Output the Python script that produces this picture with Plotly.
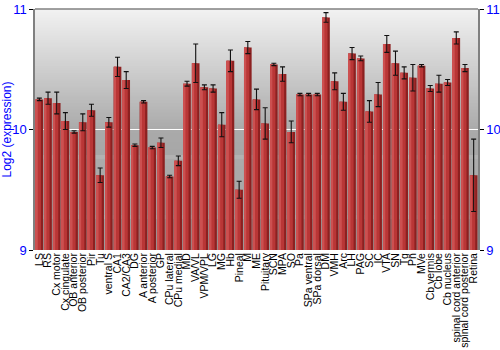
import plotly.graph_objects as go

categories = ["LS", "RS", "Cx motor", "Cx cingulate", "OB anterior", "OB posterior", "Pir", "Tu",
              "ventral S", "CA1", "CA2/CA3", "DG", "A anterior", "A posterior", "GP", "CPu lateral",
              "CPu medial", "MD", "VA/VL", "VPM/VPL", "LG", "MG", "Hb", "Pineal", "M", "ME",
              "Pituitary", "SCN", "MPA", "SO", "Pa", "SPa ventral", "SPa dorsal", "DM", "VMH", "Arc",
              "LH", "PAG", "SC", "IC", "VTA", "SN", "Tg", "Pn", "MVe", "Cb vermis", "Cb lobe",
              "Cb nucleus", "spinal cord anterior", "spinal cord posterior", "Retina"]
values = [10.25, 10.26, 10.22, 10.07, 9.98, 10.06, 10.16, 9.62,
          10.06, 10.52, 10.41, 9.87, 10.23, 9.85, 9.89, 9.61,
          9.74, 10.38, 10.55, 10.35, 10.34, 10.04, 10.57, 9.50, 10.68, 10.25,
          10.05, 10.54, 10.46, 9.98, 10.29, 10.29, 10.29, 10.93, 10.40, 10.23,
          10.63, 10.59, 10.15, 10.29, 10.71, 10.55, 10.47, 10.43, 10.53, 10.34, 10.38,
          10.39, 10.76, 10.51, 9.62]
errors = [0.01, 0.05, 0.09, 0.07, 0.01, 0.07, 0.05, 0.06,
          0.04, 0.08, 0.07, 0.01, 0.01, 0.01, 0.04, 0.01,
          0.04, 0.02, 0.16, 0.02, 0.03, 0.10, 0.09, 0.07, 0.05, 0.085,
          0.13, 0.01, 0.06, 0.09, 0.01, 0.01, 0.01, 0.04, 0.07, 0.07,
          0.05, 0.02, 0.09, 0.10, 0.07, 0.10, 0.05, 0.11, 0.01, 0.025, 0.07,
          0.025, 0.05, 0.03, 0.30]
y_ticks = [9, 10, 11]

BLUE = "#0000ff"
fig = go.Figure()

# bar body (dark right edge)
fig.add_trace(go.Bar(x=categories, y=values, width=0.88,
                     marker=dict(color="#8c2020", line=dict(width=0)),
                     hoverinfo="skip", showlegend=False))
# main red
fig.add_trace(go.Bar(x=categories, y=values, width=0.62, offset=-0.44,
                     marker=dict(color="#b93636", line=dict(width=0)),
                     hoverinfo="skip", showlegend=False))
# left highlight
fig.add_trace(go.Bar(x=categories, y=values, width=0.22, offset=-0.40,
                     marker=dict(color="#cc5050", line=dict(width=0)),
                     hoverinfo="skip", showlegend=False))
# error bars
fig.add_trace(go.Scatter(x=categories, y=values, mode="markers",
                         marker=dict(size=1, color="rgba(0,0,0,0)"),
                         error_y=dict(type="data", array=errors, visible=True,
                                      color="#111111", thickness=1.1, width=2.5),
                         showlegend=False, hoverinfo="skip"))
# right axis carrier
fig.add_trace(go.Scatter(x=categories, y=values, mode="markers", yaxis="y2",
                         marker=dict(size=1, color="rgba(0,0,0,0)"),
                         showlegend=False, hoverinfo="skip"))

# gradient background
def lerp(a, b, t):
    return a + (b - a) * t

shapes = []
n = 240
for i in range(n):
    y0 = 9 + 2 * i / n
    y1 = 9 + 2 * (i + 1) / n
    ym = (y0 + y1) / 2
    if ym >= 10:
        g = lerp(170, 242, (ym - 10))
    else:
        g = lerp(155, 170, (ym - 9))
    g = int(round(g))
    shapes.append(dict(type="rect", xref="paper", yref="y", x0=0, x1=1, y0=y0, y1=y1 + 0.004,
                       fillcolor=f"rgb({g},{g},{g})", line=dict(width=0), layer="below"))
shapes.append(dict(type="line", xref="paper", yref="paper", x0=0, x1=1, y0=1, y1=1,
                   line=dict(color="#808080", width=1.5)))

fig.update_layout(
    width=500, height=350,
    margin=dict(l=35, r=22, t=9, b=100),
    paper_bgcolor="white", plot_bgcolor="rgba(0,0,0,0)",
    barmode="overlay", bargap=0.12,
    shapes=shapes,
    font=dict(family="Liberation Sans, Arial, sans-serif", color="black"),
    xaxis=dict(type="category", tickangle=-90, tickfont=dict(size=10.5, color="black"),
               tickmode="array", tickvals=categories, ticktext=categories,
               showgrid=False, showline=False, ticks="", zeroline=False, automargin=False,
               range=[-0.5, len(categories) - 0.5]),
    yaxis=dict(range=[9, 11], tickvals=y_ticks, ticktext=[str(v) for v in y_ticks],
               tickfont=dict(size=13, color=BLUE), ticks="outside", ticklen=4,
               tickcolor="black", showline=True, linecolor="#808080", linewidth=1.5,
               showgrid=True, gridcolor="white", gridwidth=1, zeroline=False,
               automargin=False,
               title=dict(text="Log2 (expression)", font=dict(size=12, color=BLUE), standoff=4)),
    yaxis2=dict(range=[9, 11], tickvals=y_ticks, ticktext=[str(v) for v in y_ticks],
                overlaying="y", side="right", automargin=False,
                tickfont=dict(size=13, color=BLUE), ticks="outside", ticklen=4,
                tickcolor="black", showline=True, linecolor="#808080", linewidth=1.5,
                showgrid=False, zeroline=False),
)

fig.write_html("out.html")
